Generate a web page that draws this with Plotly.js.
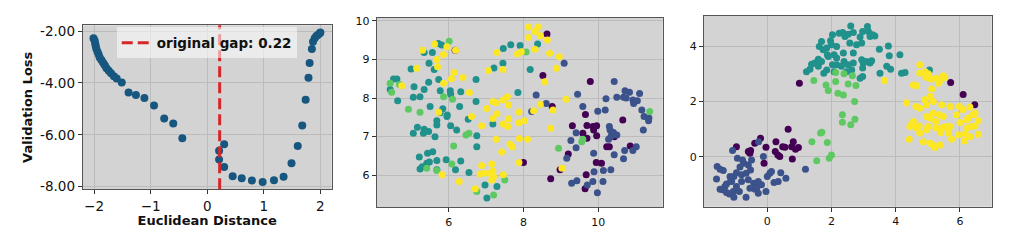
<!DOCTYPE html>
<html>
<head>
<meta charset="utf-8">
<script src="https://cdn.plot.ly/plotly-3.0.1.min.js"></script>
<style>html,body{margin:0;padding:0;background:#fff;}#chart{width:1024px;height:241px;}</style>
</head>
<body>
<div id="chart"></div>
<script>
// ---------- Panel 1: validation loss vs euclidean distance ----------
const lossDistance = [-2.01,-1.99,-1.98,-1.97,-1.96,-1.94,-1.92,-1.90,-1.87,-1.84,-1.81,-1.78,-1.74,-1.70,-1.65,-1.60,-1.51,
  -1.39,-1.26,-1.11,-0.94,-0.76,-0.60,-0.44,
  0.21,0.21,0.30,0.30,0.45,0.61,0.79,0.98,1.18,1.35,1.49,1.60,1.68,1.74,1.79,1.81,1.85,1.87,1.90,1.93,1.96,1.99,2.00];
const lossValue = [-2.28,-2.37,-2.48,-2.58,-2.68,-2.80,-2.90,-3.02,-3.12,-3.22,-3.32,-3.43,-3.53,-3.63,-3.74,-3.83,-3.98,
  -4.37,-4.47,-4.58,-4.87,-5.37,-5.56,-6.13,
  -6.61,-6.95,-6.36,-7.24,-7.60,-7.67,-7.76,-7.82,-7.75,-7.62,-7.10,-6.43,-5.64,-4.65,-3.80,-3.23,-2.69,-2.41,-2.28,-2.19,-2.14,-2.09,-2.06];
const originalGap = 0.22;
const p1XTicks = [-2,-1,0,1,2];
const p1XTickText = ['\u22122','\u22121','0','1','2'];
const p1YTicks = [-2,-4,-6,-8];
const p1YTickText = ['-2.00','-4.00','-6.00','-8.00'];

// ---------- Panel 2: embedding A, per class ----------
const p2c0x = [8.63,6.17,8.52,8.77,9.79,9.31,9.66,9.70,9.59,9.86,9.88,9.96,9.96,9.95,10.09,10.23,10.30,10.66,10.43,10.86,9.20,9.70,9.68,9.65,8.98,8.73,8.00];
const p2c0y = [9.66,9.24,8.58,7.78,8.43,7.28,7.57,7.29,7.09,7.26,7.17,7.28,7.02,6.33,6.31,6.74,6.74,7.43,7.00,6.76,6.55,6.96,6.01,5.65,6.14,5.91,6.33];
const p2c1x = [9.09,8.34,8.22,8.61,9.45,9.59,9.27,9.41,9.41,9.16,9.99,10.21,10.19,10.43,10.50,10.68,10.75,10.93,10.72,10.84,10.95,11.05,11.11,11.17,11.23,11.35,11.21,11.02,10.93,10.68,10.71,10.30,10.32,10.37,10.34,10.43,10.14,10.34,10.13,9.89,9.86,9.71,9.43,9.29,9.98,9.88,10.28,10.41,10.50,11.36];
const p2c1y = [8.90,8.08,7.65,7.86,8.10,7.78,6.90,6.71,7.10,6.44,7.66,7.98,7.69,8.43,8.02,8.02,8.00,7.95,8.19,8.15,7.86,7.93,8.12,7.69,7.52,7.41,7.17,6.74,6.64,6.43,6.64,7.26,7.17,7.09,7.00,6.53,6.12,6.14,5.84,6.09,5.84,5.75,5.86,5.79,5.55,6.57,6.93,7.11,7.04,7.48];
const p2c2x = [5.72,5.81,5.56,5.34,5.47,5.61,4.99,5.46,5.73,5.34,5.77,6.04,6.05,6.32,5.07,5.05,5.23,4.63,4.43,4.52,4.61,5.50,5.77,5.84,5.95,6.05,6.29,6.52,6.73,6.73,5.16,5.34,5.46,5.63,5.32,5.05,5.68,5.68,5.96,6.21,6.75,6.75,5.21,5.43,5.57,5.23,5.41,5.48,5.68,5.68,5.93,6.32,6.18,6.54,6.97,7.02,7.29,7.18,7.21,7.45,7.46,7.66,7.91,8.18,7.85,8.38,5.29];
const p2c2y = [9.41,9.37,9.18,9.18,8.90,8.74,8.75,8.41,8.48,8.22,8.19,8.19,8.10,8.16,8.29,8.02,8.03,7.93,8.22,8.49,8.49,7.78,7.62,7.72,7.52,7.28,7.78,7.45,7.91,8.48,7.24,7.19,7.13,7.00,7.09,7.09,7.30,7.41,7.56,7.17,7.02,6.74,6.47,6.57,6.61,6.16,6.31,6.34,6.38,6.14,6.40,6.37,6.14,6.07,5.75,5.41,5.71,7.33,8.78,8.90,9.28,9.38,9.36,8.74,8.14,9.40,6.22];
const p2c3x = [4.43,4.47,4.68,4.92,5.23,5.86,6.01,6.10,6.13,6.08,6.46,6.54,5.41,5.68,6.75,7.20,7.50,8.07,9.59,9.56,8.94,11.38];
const p2c3y = [8.38,8.15,8.35,7.71,7.63,8.03,9.47,7.97,6.76,6.29,7.04,7.09,6.18,6.12,5.58,5.49,5.88,9.19,6.93,6.87,6.70,7.65];
const p2c4x = [5.30,5.62,5.95,6.18,5.68,5.70,5.14,5.86,6.07,6.14,6.38,6.55,5.73,6.61,6.88,7.02,7.18,7.26,7.46,7.57,7.60,7.29,7.18,7.46,7.60,7.58,7.88,7.88,8.02,8.11,7.89,7.27,7.42,7.64,7.70,7.45,7.06,7.29,7.84,7.94,8.31,8.13,8.13,8.39,8.31,8.45,8.64,8.70,8.96,8.88,8.57,8.45,8.27,8.79,8.73,9.14,9.03,7.88,7.46,7.20,6.88,6.95,7.11,7.15,7.18,6.71,6.28,5.82,4.74,5.86,6.84,7.15];
const p2c4y = [9.24,9.40,9.33,9.24,9.00,8.81,8.77,8.38,8.50,8.66,8.53,8.14,7.63,7.52,7.28,7.73,7.91,7.88,7.95,8.03,7.82,7.59,7.47,7.33,7.46,7.26,7.64,7.36,7.41,6.93,6.95,6.93,6.60,6.81,6.74,8.74,8.71,9.18,9.14,9.20,9.26,9.57,9.84,9.84,9.72,9.61,9.50,9.16,9.07,8.77,8.42,7.84,7.67,7.69,7.22,7.97,6.18,6.33,6.01,5.97,6.25,6.05,6.05,6.29,6.11,5.65,5.84,6.01,8.32,9.13,6.03,5.88];
const p2XTicks = [6,8,10];
const p2YTicks = [6,7,8,9,10];

// ---------- Panel 3: embedding B, per class ----------
const p3c0x = [-0.96,-0.52,-0.54,-0.39,-0.21,-0.04,0.27,0.25,0.33,0.48,0.55,0.65,0.76,0.81,0.88,0.97,0.78,-0.10,1.00,5.71,6.10,6.46,0.39,-0.59];
const p3c0y = [0.37,0.23,0.13,0.49,0.67,0.35,0.55,0.19,0.07,0.37,0.35,1.00,0.37,0.55,0.28,0.34,-0.08,-0.23,2.66,2.69,2.25,1.88,0.01,0.19];
const p3c1x = [-1.08,-0.93,-1.56,-1.47,-1.37,-1.58,-1.47,-1.27,-1.18,-1.04,-1.32,-1.11,-1.04,-0.96,-0.85,-0.73,-0.59,-0.52,-0.66,-0.59,-0.80,-0.96,-0.87,-0.66,-0.38,-0.42,-0.28,-0.31,-0.18,-0.04,0.00,0.08,0.21,0.34,0.42,0.58,0.13,-0.12,-0.27,-1.14,-1.27,-0.49,-0.77,-1.39,-1.06,-0.33,1.19,-0.80,-0.54,-0.28,-1.16];
const p3c1y = [0.23,-0.05,-0.35,-0.45,-0.49,-0.80,-1.17,-1.29,-1.34,-1.46,-1.07,-0.89,-0.71,-0.57,-0.37,-0.23,-0.29,-0.47,-0.59,-0.83,-0.89,-1.07,-1.25,-1.46,-1.17,-0.95,-0.89,-1.01,-1.01,-1.25,-0.71,-0.59,-0.93,-0.89,-0.57,-0.77,-0.53,0.01,0.55,-0.87,-0.98,-0.11,-0.11,-1.19,-1.25,-1.13,-0.45,-0.65,-1.13,-1.31,-0.71];
const p3c2x = [1.22,1.33,1.38,1.48,1.59,1.69,1.62,1.59,1.74,1.85,1.90,1.97,2.00,2.08,2.16,2.24,2.35,2.42,2.52,2.60,2.68,2.57,2.68,2.37,2.39,2.31,2.16,2.08,2.03,1.85,1.76,2.47,2.63,2.68,2.89,2.97,2.94,2.99,3.09,3.25,3.20,2.94,2.89,2.97,3.12,3.15,3.20,3.28,3.35,3.49,3.51,3.77,3.80,3.72,3.84,4.13,4.18,4.29,2.97,5.05,2.16,1.69,1.87,2.78,2.52,2.03];
const p3c2y = [3.08,3.17,3.35,3.39,3.27,4.17,3.99,3.53,3.87,3.93,3.63,4.20,4.05,3.69,3.99,4.47,4.49,4.35,4.43,4.73,4.49,4.11,3.75,3.75,3.45,3.27,3.33,3.08,3.33,3.14,3.02,3.08,3.14,3.39,2.84,2.90,3.51,3.39,3.45,3.47,3.39,4.11,4.33,4.53,4.71,4.53,4.35,4.41,4.37,3.89,3.02,4.01,3.65,3.27,3.17,3.69,3.02,3.05,3.21,3.14,3.57,3.45,3.69,4.05,3.33,4.41];
const p3c3x = [1.45,1.83,1.90,2.13,2.13,2.39,2.65,2.20,2.37,2.52,2.76,2.72,2.34,2.34,2.60,2.73,1.39,1.66,1.70,1.87,2.00,1.93,1.54];
const p3c3y = [2.76,2.60,2.40,3.05,2.72,3.00,2.93,2.30,2.24,2.63,2.58,2.00,1.52,1.25,1.16,1.36,0.55,0.86,0.89,0.52,0.07,-0.05,-0.14];
const p3c4x = [3.65,4.75,4.92,4.75,5.01,4.94,4.55,4.65,5.09,5.25,5.36,5.48,5.53,5.12,5.33,5.07,4.91,4.34,4.63,4.75,4.96,5.17,5.43,5.69,5.98,6.10,6.31,5.17,5.36,5.48,5.07,4.96,5.25,4.55,4.49,4.44,4.65,4.73,5.01,5.25,5.40,5.48,5.58,5.69,5.90,6.00,6.21,6.26,6.41,6.47,6.57,6.23,6.36,6.47,6.16,6.31,6.57,4.42,4.86,5.07,5.17,5.22,5.38,5.74,5.95,6.14,4.96,4.75,5.64];
const p3c4y = [2.76,3.33,3.08,3.02,3.00,2.88,2.60,2.57,2.81,2.84,2.72,2.93,2.87,2.45,2.66,2.18,2.06,1.96,1.82,1.76,1.88,2.00,1.88,1.82,1.82,1.70,1.80,1.58,1.52,1.46,1.40,1.46,1.28,1.28,1.16,1.10,1.04,1.12,1.10,1.04,0.88,1.07,1.10,1.10,1.52,1.24,1.34,1.40,1.52,1.58,1.31,1.04,1.10,1.12,0.83,0.73,0.82,0.64,0.55,0.49,0.43,0.34,0.43,0.64,0.80,0.57,0.98,0.86,0.86];
const p3XTicks = [0,2,4,6];
const p3YTicks = [0,2,4];

const classColors = ['#440154','#3b528b','#21918c','#5ec962','#fde725'];

// ---------- build ----------
const FONT = 'DejaVu Sans, Liberation Sans, sans-serif';
const traces = [];
traces.push({type:'scatter', mode:'markers', x:lossDistance, y:lossValue, xaxis:'x', yaxis:'y',
  marker:{size:8, color:'#17567f'}, showlegend:false, hoverinfo:'skip'});

const p2 = [[p2c0x,p2c0y],[p2c1x,p2c1y],[p2c2x,p2c2y],[p2c3x,p2c3y],[p2c4x,p2c4y]];
const p3 = [[p3c0x,p3c0y],[p3c1x,p3c1y],[p3c2x,p3c2y],[p3c3x,p3c3y],[p3c4x,p3c4y]];
p2.forEach((d,i)=>traces.push({type:'scatter', mode:'markers', x:d[0], y:d[1], xaxis:'x2', yaxis:'y2',
  marker:{size:7, color:classColors[i]}, showlegend:false, hoverinfo:'skip'}));
p3.forEach((d,i)=>traces.push({type:'scatter', mode:'markers', x:d[0], y:d[1], xaxis:'x3', yaxis:'y3',
  marker:{size:7, color:classColors[i]}, showlegend:false, hoverinfo:'skip'}));

const axBase = {showline:true, mirror:true, linecolor:'#555', linewidth:1, showgrid:true, gridcolor:'#bcbcbc', gridwidth:1,
  zeroline:false, ticks:'outside', ticklen:4, tickcolor:'#333', automargin:false, fixedrange:true};

const layout = {
  width:1024, height:241, margin:{l:0,r:0,t:0,b:0},
  paper_bgcolor:'#ffffff', plot_bgcolor:'#d3d3d3',
  showlegend:true,
  legend:{x:0.114, y:0.886, xanchor:'left', yanchor:'top', bgcolor:'rgba(255,255,255,0.55)', borderwidth:0,
    font:{family:FONT, size:13.5, weight:'bold', color:'#111'}},
  shapes:[{type:'line', xref:'x', yref:'y domain', x0:originalGap, x1:originalGap, y0:0, y1:1,
    line:{color:'#d62728', width:3, dash:'11px,5px'}, showlegend:true, name:'original gap: '+originalGap.toFixed(2)}],
  xaxis:Object.assign({}, axBase, {domain:[0.0808,0.3239], range:[-2.2,2.2], anchor:'y', tickvals:p1XTicks, ticktext:p1XTickText,
    tickfont:{family:FONT, size:13.5, color:'#111'},
    title:{text:'<b>Euclidean Distance</b>', font:{family:FONT, size:13, color:'#111'}, standoff:0}}),
  yaxis:Object.assign({}, axBase, {domain:[0.2145,0.895], range:[-8.1,-1.78], anchor:'x', tickvals:p1YTicks, ticktext:p1YTickText,
    tickfont:{family:FONT, size:13.5, color:'#111'},
    title:{text:'<b>Validation Loss</b>', font:{family:FONT, size:13, color:'#111'}, standoff:4}}),
  xaxis2:Object.assign({}, axBase, {domain:[0.3679,0.6472], range:[4.07,11.73], anchor:'y2', tickvals:p2XTicks,
    tickfont:{family:FONT, size:11, color:'#111'}}),
  yaxis2:Object.assign({}, axBase, {domain:[0.1398,0.9266], range:[5.17,10.08], anchor:'x2', tickvals:p2YTicks,
    tickfont:{family:FONT, size:11, color:'#111'}}),
  xaxis3:Object.assign({}, axBase, {domain:[0.6875,0.9685], range:[-1.97,6.99], anchor:'y3', tickvals:p3XTicks,
    tickfont:{family:FONT, size:11, color:'#111'}}),
  yaxis3:Object.assign({}, axBase, {domain:[0.1423,0.9336], range:[-1.8,5.09], anchor:'x3', tickvals:p3YTicks,
    tickfont:{family:FONT, size:11, color:'#111'}})
};

Plotly.newPlot('chart', traces, layout, {displayModeBar:false, staticPlot:true});
</script>
</body>
</html>
